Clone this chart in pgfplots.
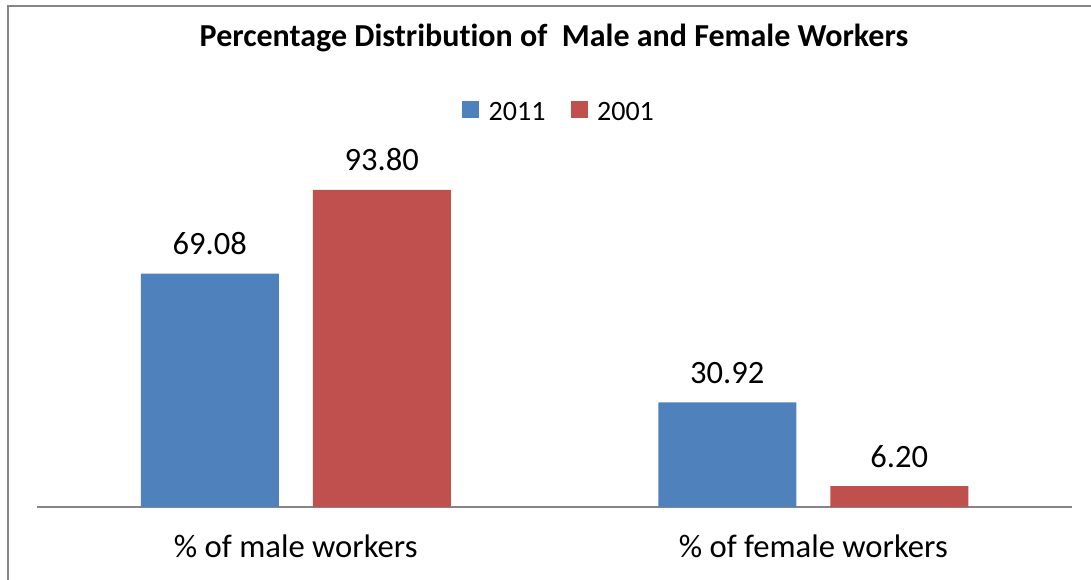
\documentclass[border=0pt]{standalone}
\usepackage{fontspec}
\setmainfont{Carlito}[Ligatures=NoCommon]
\usepackage{pgfplots}
\pgfplotsset{compat=1.18}
\definecolor{xlblue}{HTML}{4F81BD}
\definecolor{xlred}{HTML}{C0504D}
\definecolor{xlgray}{HTML}{868686}
\begin{document}
\begin{tikzpicture}[x=0.75pt,y=-0.75pt]
  % page frame: 1091 x 580 px, 1px = 0.75pt
  \path[use as bounding box] (0,0) rectangle (1091,580);
  \draw[xlgray,line width=1.5pt] (7.5,580) -- (7.5,6.5) -- (1091,6.5);
  \node[anchor=base,inner sep=0pt,font=\fontsize{24}{28}\selectfont\bfseries]
    at (554,47) {Percentage Distribution of\ \ Male and Female Workers};
  \begin{axis}[
    at={(27.75pt,-380.25pt)}, anchor=south west,
    scale only axis, width=776.25pt, height=253.5pt,
    ybar, bar width=103.5pt,
    xmin=-0.5, xmax=1.5, ymin=0, ymax=100,
    axis x line*=bottom, axis y line=none,
    x axis line style={xlgray,line width=0.9pt,-},
    xtick={0,1}, ytick=\empty, major tick length=0pt,
    xticklabels={\% of male workers, \% of female workers},
    xticklabel style={anchor=base,inner sep=0pt,yshift=-37.5pt,
      font=\fontsize{24.5}{28}\selectfont},
    nodes near coords={\pgfmathprintnumber[fixed,fixed zerofill,precision=2,assume math mode=true]{\pgfplotspointmeta}},
    nodes near coords style={anchor=base,inner sep=0pt,yshift=14.25pt,
      font=\fontsize{24.4}{28}\selectfont, text=black},
    legend style={at={(0.5048,1.166)}, anchor=center, draw=none,
      legend columns=-1, font=\fontsize{21}{24}\selectfont,
      /tikz/every odd column/.append style={column sep=5pt},
      /tikz/every even column/.append style={column sep=17pt}},
    legend image code/.code={\fill[#1] (0pt,-4pt) rectangle (12.75pt,8.75pt);},
  ]
    \addplot[fill=xlblue,draw=none,bar shift=-64.5pt] coordinates {(0,69.08) (1,30.92)};
    \addplot[fill=xlred,draw=none,bar shift=64.5pt] coordinates {(0,93.80) (1,6.20)};
    \legend{2011,2001}
  \end{axis}
\end{tikzpicture}
\end{document}
